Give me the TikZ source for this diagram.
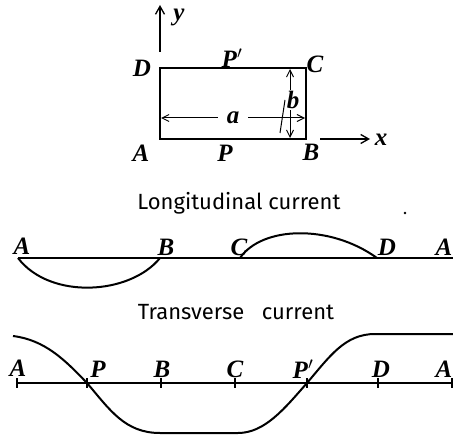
\documentclass[tikz,border=0pt]{standalone}
\usepackage{fontspec}
\newfontfamily\titlefont{Fira Sans}
\newfontfamily\lblfont{Liberation Serif}
\usetikzlibrary{arrows.meta}
\begin{document}
\begin{tikzpicture}[x=1pt,y=-1pt,
  lbl/.style={font=\lblfont\fontsize{25}{25}\selectfont\bfseries\itshape, inner sep=0pt},
  ttl/.style={font=\titlefont\fontsize{22}{22}\selectfont, inner sep=0pt},
  edge/.style={line width=1.5pt},
  curve/.style={line width=2pt},
  axis/.style={line width=1.3pt},
  tip/.style={-{Straight Barb[length=8pt,width=9pt]}},
  dim/.style={line width=1pt,{Straight Barb[length=7pt,width=7pt]}-{Straight Barb[length=7pt,width=7pt]}}]
\useasboundingbox (0,0) rectangle (453,436);
% ---------- rectangle ----------
\coordinate (rA) at (160,139);
\coordinate (rB) at (306,139);
\coordinate (rC) at (306,68);
\coordinate (rD) at (160,68);
\draw[edge] (rA) -- (rB) -- (rC) -- (rD) -- cycle;
\coordinate (yb) at (160,52);
\coordinate (yt) at (160,5);
\draw[axis,tip] (yb) -- (yt);
\node[lbl] (ylab) at (179,17) {y};
\coordinate (xb) at (320,139);
\coordinate (xt) at (370,139);
\draw[axis,tip] (xb) -- (xt);
\node[lbl] (xlab) at (381,140) {x};
\node[lbl] (lD) at (142,68) {D};
\node[lbl] (lPp) at (232,58) {P$^{\prime}$};
\node[lbl] (lC) at (315,64) {C};
\node[lbl] (lA) at (141,153) {A};
\node[lbl] (lP) at (225,153) {P};
\node[lbl] (lB) at (311,152) {B};
% dimension a
\coordinate (aL) at (161,118);
\coordinate (aR) at (305,118);
\draw[dim] (aL) -- node[lbl,fill=white,inner xsep=9pt] (la) {a} (aR);
% dimension b
\coordinate (bT) at (290,69);
\coordinate (bB) at (290,138);
\draw[dim] (bT) -- (bB);
\node[lbl,fill=white,inner sep=1pt] (lb) at (293,100) {b};
\coordinate (s1) at (285,100);
\coordinate (s2) at (280,133);
\draw[line width=1pt] (s1) -- (s2);
% ---------- longitudinal current ----------
\node[ttl] (t1) at (239,203) {Longitudinal current};
\fill (405,213) circle (1.3pt);
\coordinate (mA) at (18,258);
\coordinate (mB) at (160,258);
\coordinate (mC) at (240,258);
\coordinate (mD) at (377,258);
\coordinate (mE) at (453,258);
\draw[curve] (mA) -- (mE);
\draw[curve] (mA) .. controls (50,300) and (130,295) .. (mB);
\draw[curve] (mC) .. controls (262,226) and (330,224) .. (mD);
\node[lbl] (m1) at (22,246) {A};
\node[lbl] (m2) at (166,247) {B};
\node[lbl] (m3) at (239,247) {C};
\node[lbl] (m4) at (387,247) {D};
\node[lbl] (m5) at (444,247) {A};
% ---------- transverse current ----------
\node[ttl] (t2) at (236,312) {Transverse\hspace{0.8em}current};
\coordinate (tA) at (17,383);
\coordinate (tE) at (452,383);
\draw[axis] (tA) -- (tE);
\foreach \x/\n in {17/k1,87/k2,161/k3,235/k4,307/k5,378/k6,452/k7}{
  \coordinate (\n a) at (\x,378);
  \coordinate (\n b) at (\x,388);
  \draw[axis] (\n a) -- (\n b);
}
\node[lbl] (n1) at (18,368) {A};
\node[lbl] (n2) at (98,369) {P};
\node[lbl] (n3) at (162,369) {B};
\node[lbl] (n4) at (235,369) {C};
\node[lbl] (n5) at (303,369) {P$^{\prime}$};
\node[lbl] (n6) at (381,369) {D};
\node[lbl] (n7) at (444,369) {A};
\coordinate (c0) at (13,336);
\coordinate (cP) at (87,383);
\coordinate (c1) at (160,433);
\coordinate (c2) at (238,433);
\coordinate (cQ) at (307,383);
\coordinate (c3) at (375,334);
\coordinate (c4) at (453,334);
\draw[curve] (c0) .. controls (45,340) and (65,360) .. (cP)
  .. controls (110,410) and (125,433) .. (c1) -- (c2)
  .. controls (265,433) and (285,408) .. (cQ)
  .. controls (330,356) and (345,334) .. (c3) -- (c4);
\end{tikzpicture}
\end{document}
